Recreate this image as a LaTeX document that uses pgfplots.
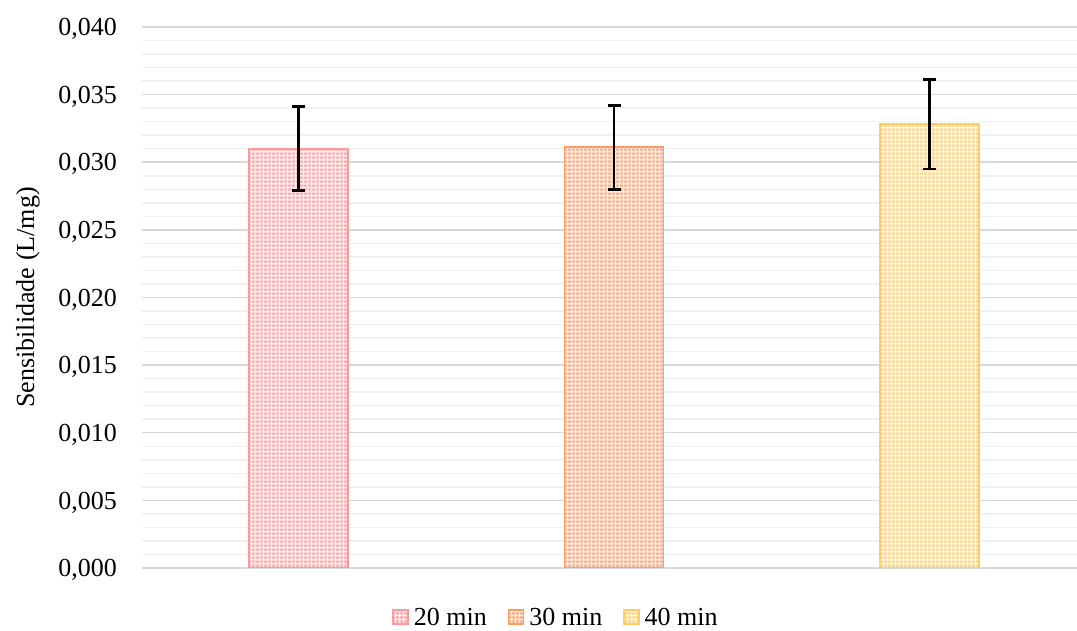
\documentclass[border=0pt]{standalone}
\usepackage{pgfplots}
\pgfplotsset{compat=1.18}
\usepackage{fontspec}
\setmainfont{Liberation Serif}
\usetikzlibrary{patterns,patterns.meta}
\definecolor{cA}{HTML}{FF9999}
\definecolor{cB}{HTML}{FF9966}
\definecolor{cC}{HTML}{FFCC66}
\definecolor{gmaj}{HTML}{D9D9D9}
\definecolor{gmin}{HTML}{F0F0F0}
\newcommand\f{\fontsize{26bp}{31bp}\selectfont}
\pgfdeclarepattern{name=exceldots, type=uncolored,
  bottom left={\pgfpoint{0bp}{0bp}}, top right={\pgfpoint{4bp}{4bp}},
  tile size={\pgfpoint{4bp}{4bp}},
  code={\pgfpathrectangle{\pgfpoint{0.5bp}{0.5bp}}{\pgfpoint{2.6bp}{2.6bp}}\pgfusepath{fill}}}
\begin{document}
\begin{tikzpicture}
\begin{axis}[
  scale only axis, width=935.3bp, height=541bp,
  xmin=-0.497, xmax=2.4675, ymin=0, ymax=0.04,
  ytick={0,0.005,...,0.04}, minor y tick num=4,
  xtick=\empty,
  scaled y ticks=false,
  major tick length=0pt, minor tick length=0pt,
  axis line style={draw=none},
  ymajorgrids, yminorgrids,
  major grid style={gmaj, line width=1.5bp},
  minor grid style={gmin, line width=1.5bp},
  /pgf/number format/assume math mode=true,
  yticklabel style={font=\f, anchor=east, inner sep=0pt, text depth=0pt, xshift=-24.7bp,
    /pgf/number format/.cd, fixed, fixed zerofill, precision=3, use comma},
  ylabel={Sensibilidade (L/mg)},
  every axis y label/.style={at={(axis description cs:-0.1216,0.5)}, rotate=90, anchor=center, font=\f},
  ybar, bar width=99bp, bar shift=0pt,
  legend style={at={(axis description cs:0.443,-0.091)}, anchor=center, legend columns=3,
    draw=none, fill=none, font=\f, inner sep=1bp,
    /tikz/every odd column/.append style={column sep=3bp},
    /tikz/every even column/.append style={column sep=19bp}},
  legend cell align=left,
  mylegend/.style={legend image code/.code={\draw[##1, line width=1.5bp] (0bp,-7bp) rectangle (15bp,7bp);}},
  error bars/y dir=both, error bars/y explicit,
  error bars/error bar style={black, line width=2.6bp},
  error bars/error mark options={rotate=90, mark size=6.5bp, line width=2.6bp, black},
]
\addplot[draw=cA, line width=1.8bp, fill=cA!22, postaction={pattern={exceldots}, pattern color=cA}, mylegend]
  coordinates {(0,0.0310) +- (0,0.0031)};
\addlegendentry{20 min}
\addplot[draw=cB, line width=1.8bp, fill=cB!22, postaction={pattern={exceldots}, pattern color=cB}, mylegend]
  coordinates {(1,0.0311) +- (0,0.0031)};
\addlegendentry{30 min}
\addplot[draw=cC, line width=1.8bp, fill=cC!22, postaction={pattern={exceldots}, pattern color=cC}, mylegend]
  coordinates {(2,0.0328) +- (0,0.0033)};
\addlegendentry{40 min}
\coordinate (A) at (rel axis cs:0,0);
\coordinate (B) at (rel axis cs:1,1);
\end{axis}
\pgfresetboundingbox
\path[use as bounding box] ([shift={(-141.7bp,-63bp)}]A) rectangle ([shift={(0bp,27bp)}]B);
\end{tikzpicture}
\end{document}
